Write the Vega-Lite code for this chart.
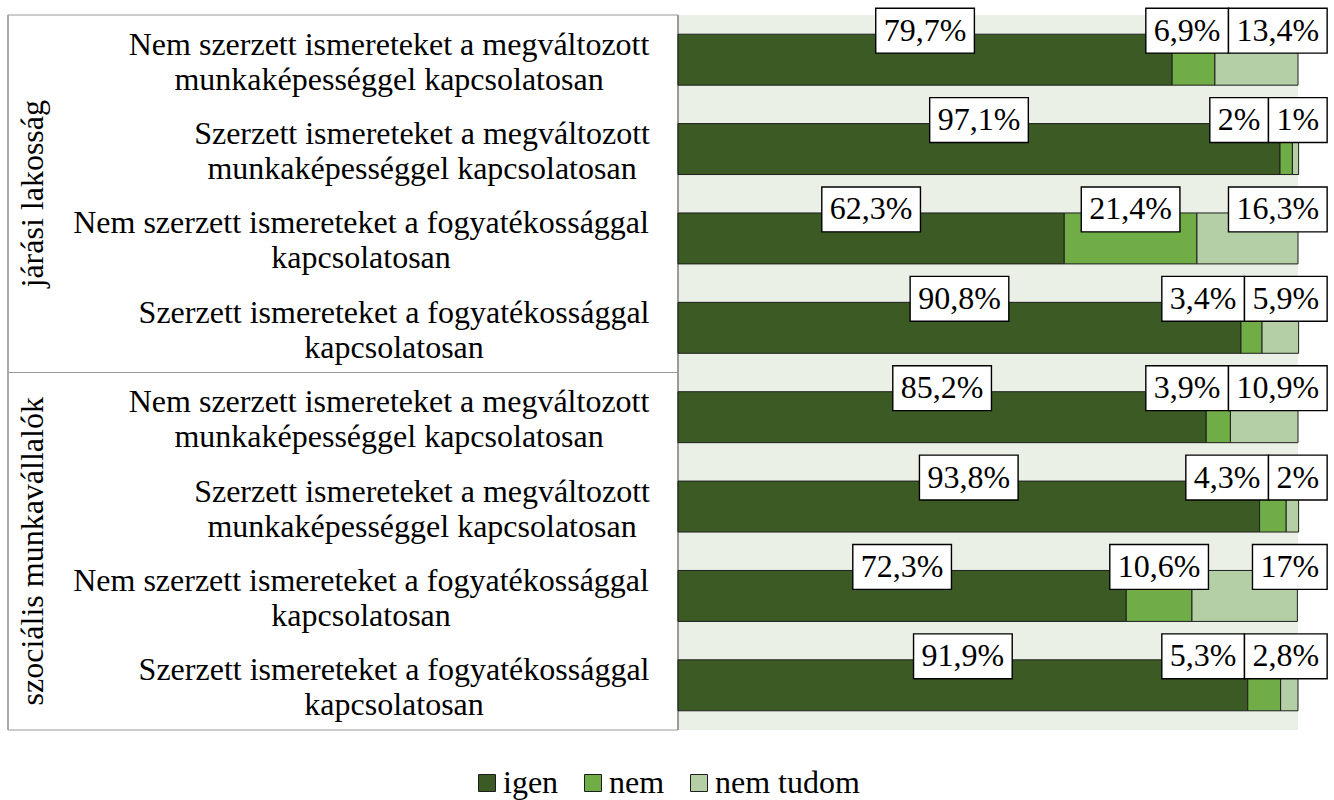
{
  "$schema": "https://vega.github.io/schema/vega-lite/v6.json",
  "width": 1290,
  "height": 715,
  "autosize": {"type": "none"},
  "padding": {"left": 8, "top": 15, "right": 36, "bottom": 70},
  "background": "white",
  "config": {
    "view": {"stroke": null},
    "font": "Liberation Serif",
    "text": {"font": "Liberation Serif", "color": "black"}
  },
  "datasets": {
    "valaszok": [
      {"csoport": "járási lakosság", "kategoria": "Nem szerzett ismereteket a megváltozott\nmunkaképességgel kapcsolatosan", "valasz": "igen", "ertek": 79.7},
      {"csoport": "járási lakosság", "kategoria": "Nem szerzett ismereteket a megváltozott\nmunkaképességgel kapcsolatosan", "valasz": "nem", "ertek": 6.9},
      {"csoport": "járási lakosság", "kategoria": "Nem szerzett ismereteket a megváltozott\nmunkaképességgel kapcsolatosan", "valasz": "nem tudom", "ertek": 13.4},
      {"csoport": "járási lakosság", "kategoria": "Szerzett ismereteket a megváltozott\nmunkaképességgel kapcsolatosan", "valasz": "igen", "ertek": 97.1},
      {"csoport": "járási lakosság", "kategoria": "Szerzett ismereteket a megváltozott\nmunkaképességgel kapcsolatosan", "valasz": "nem", "ertek": 2},
      {"csoport": "járási lakosság", "kategoria": "Szerzett ismereteket a megváltozott\nmunkaképességgel kapcsolatosan", "valasz": "nem tudom", "ertek": 1},
      {"csoport": "járási lakosság", "kategoria": "Nem szerzett ismereteket a fogyatékossággal\nkapcsolatosan", "valasz": "igen", "ertek": 62.3},
      {"csoport": "járási lakosság", "kategoria": "Nem szerzett ismereteket a fogyatékossággal\nkapcsolatosan", "valasz": "nem", "ertek": 21.4},
      {"csoport": "járási lakosság", "kategoria": "Nem szerzett ismereteket a fogyatékossággal\nkapcsolatosan", "valasz": "nem tudom", "ertek": 16.3},
      {"csoport": "járási lakosság", "kategoria": "Szerzett ismereteket a fogyatékossággal\nkapcsolatosan", "valasz": "igen", "ertek": 90.8},
      {"csoport": "járási lakosság", "kategoria": "Szerzett ismereteket a fogyatékossággal\nkapcsolatosan", "valasz": "nem", "ertek": 3.4},
      {"csoport": "járási lakosság", "kategoria": "Szerzett ismereteket a fogyatékossággal\nkapcsolatosan", "valasz": "nem tudom", "ertek": 5.9},
      {"csoport": "szociális munkavállalók", "kategoria": "Nem szerzett ismereteket a megváltozott\nmunkaképességgel kapcsolatosan", "valasz": "igen", "ertek": 85.2},
      {"csoport": "szociális munkavállalók", "kategoria": "Nem szerzett ismereteket a megváltozott\nmunkaképességgel kapcsolatosan", "valasz": "nem", "ertek": 3.9},
      {"csoport": "szociális munkavállalók", "kategoria": "Nem szerzett ismereteket a megváltozott\nmunkaképességgel kapcsolatosan", "valasz": "nem tudom", "ertek": 10.9},
      {"csoport": "szociális munkavállalók", "kategoria": "Szerzett ismereteket a megváltozott\nmunkaképességgel kapcsolatosan", "valasz": "igen", "ertek": 93.8},
      {"csoport": "szociális munkavállalók", "kategoria": "Szerzett ismereteket a megváltozott\nmunkaképességgel kapcsolatosan", "valasz": "nem", "ertek": 4.3},
      {"csoport": "szociális munkavállalók", "kategoria": "Szerzett ismereteket a megváltozott\nmunkaképességgel kapcsolatosan", "valasz": "nem tudom", "ertek": 2},
      {"csoport": "szociális munkavállalók", "kategoria": "Nem szerzett ismereteket a fogyatékossággal\nkapcsolatosan", "valasz": "igen", "ertek": 72.3},
      {"csoport": "szociális munkavállalók", "kategoria": "Nem szerzett ismereteket a fogyatékossággal\nkapcsolatosan", "valasz": "nem", "ertek": 10.6},
      {"csoport": "szociális munkavállalók", "kategoria": "Nem szerzett ismereteket a fogyatékossággal\nkapcsolatosan", "valasz": "nem tudom", "ertek": 17},
      {"csoport": "szociális munkavállalók", "kategoria": "Szerzett ismereteket a fogyatékossággal\nkapcsolatosan", "valasz": "igen", "ertek": 91.9},
      {"csoport": "szociális munkavállalók", "kategoria": "Szerzett ismereteket a fogyatékossággal\nkapcsolatosan", "valasz": "nem", "ertek": 5.3},
      {"csoport": "szociális munkavállalók", "kategoria": "Szerzett ismereteket a fogyatékossággal\nkapcsolatosan", "valasz": "nem tudom", "ertek": 2.8}
    ],
    "csoportok": [
      {"csoport": "járási lakosság"},
      {"csoport": "szociális munkavállalók"}
    ]
  },
  "layer": [
    {
      "data": {"name": "valaszok"},
      "transform": [
        {"calculate": "indexof(['igen','nem','nem tudom'], datum.valasz)", "as": "rend"},
        {"calculate": "datum.csoport + ' – ' + datum.kategoria", "as": "sor"},
        {"stack": "ertek", "groupby": ["sor"], "sort": [{"field": "rend", "order": "ascending"}], "as": ["x0", "x1"]},
        {"calculate": "replace(toString(datum.ertek), '.', ',') + '%'", "as": "felirat"},
        {"calculate": "(32 * (0.5 * length(replace(toString(datum.ertek), '.', '')) + (indexof(toString(datum.ertek), '.') >= 0 ? 0.25 : 0) + 0.833) + 16) / 6.2", "as": "doboz"},
        {"calculate": "datum.valasz == 'nem tudom' ? 104.7 - datum.doboz : null", "as": "ntbal"},
        {"joinaggregate": [{"op": "max", "field": "ntbal", "as": "ntbal_sor"}], "groupby": ["sor"]},
        {"calculate": "datum.valasz == 'igen' ? (datum.x0 + datum.x1) / 2 : (datum.valasz == 'nem' ? min((datum.x0 + datum.x1) / 2, datum.ntbal_sor - datum.doboz / 2) : 104.7 - datum.doboz / 2)", "as": "kozep"},
        {"calculate": "datum.kozep - datum.doboz / 2", "as": "bal"},
        {"calculate": "datum.kozep + datum.doboz / 2", "as": "jobb"}
      ],
      "layer": [
        {
          "mark": {"type": "rect", "fill": "#eaf0e6"},
          "encoding": {
            "x": {"datum": 0, "type": "quantitative", "scale": {"domain": [-108.06, 100], "nice": false, "zero": false}, "axis": null},
            "x2": {"datum": 100}
          }
        },
        {
          "mark": {"type": "rule", "color": "#9a9a9a", "strokeWidth": 1.2},
          "encoding": {
            "x": {"datum": 0, "type": "quantitative", "scale": {"domain": [-108.06, 100], "nice": false, "zero": false}, "axis": null}
          }
        },
        {
          "mark": {"type": "bar", "stroke": "#1e1e1e", "strokeWidth": 1},
          "encoding": {
            "y": {"field": "sor", "type": "nominal", "sort": null, "axis": null, "scale": {"paddingInner": 0.43, "paddingOuter": 0.215}},
            "x": {"field": "x0", "type": "quantitative", "scale": {"domain": [-108.06, 100], "nice": false, "zero": false}, "axis": null},
            "x2": {"field": "x1"},
            "color": {
              "field": "valasz",
              "type": "nominal",
              "scale": {"domain": ["igen", "nem", "nem tudom"], "range": ["#3b5a24", "#70ad47", "#b4cfa6"]},
              "legend": {
                "orient": "none",
                "legendX": 463,
                "legendY": 752,
                "direction": "horizontal",
                "title": null,
                "symbolType": "square",
                "symbolSize": 289,
                "symbolStrokeColor": "#1e1e1e",
                "symbolStrokeWidth": 1,
                "symbolOpacity": 1,
                "labelFont": "Liberation Serif",
                "labelFontSize": 32,
                "labelLimit": 400,
                "labelColor": "black",
                "labelOffset": 0,
                "labelBaseline": "middle",
                "columnPadding": 18,
                "padding": 0
              }
            }
          }
        },
        {
          "mark": {"type": "bar", "fill": "white", "stroke": "black", "strokeWidth": 1.4, "height": {"band": 0.88}, "yOffset": -29},
          "encoding": {
            "y": {"field": "sor", "type": "nominal", "sort": null, "axis": null},
            "x": {"field": "bal", "type": "quantitative", "scale": {"domain": [-108.06, 100], "nice": false, "zero": false}, "axis": null},
            "x2": {"field": "jobb"}
          }
        },
        {
          "mark": {"type": "text", "font": "Liberation Serif", "fontSize": 32, "align": "center", "baseline": "middle", "yOffset": -29, "color": "black"},
          "encoding": {
            "y": {"field": "sor", "type": "nominal", "sort": null, "axis": null},
            "x": {"field": "kozep", "type": "quantitative", "scale": {"domain": [-108.06, 100], "nice": false, "zero": false}, "axis": null},
            "text": {"field": "felirat"}
          }
        },
        {
          "transform": [{"filter": "datum.valasz == 'igen'"}],
          "mark": {
            "type": "text",
            "font": "Liberation Serif",
            "fontSize": 32,
            "align": "center",
            "baseline": "middle",
            "lineBreak": "\n",
            "lineHeight": 35,
            "dy": -15,
            "dx": {"expr": "indexof(datum.kategoria, 'Nem szerzett') == 0 ? (indexof(datum.kategoria, 'megváltozott') >= 0 ? 0 : -28) : (indexof(datum.kategoria, 'megváltozott') >= 0 ? 33 : 5)"},
            "color": "black"
          },
          "encoding": {
            "y": {"field": "sor", "type": "nominal", "sort": null, "axis": null},
            "x": {"datum": -46.6, "type": "quantitative", "scale": {"domain": [-108.06, 100], "nice": false, "zero": false}, "axis": null},
            "text": {"field": "kategoria"}
          }
        }
      ]
    },
    {
      "data": {"name": "csoportok"},
      "layer": [
        {
          "mark": {"type": "rule", "color": "#9a9a9a", "strokeWidth": 1.2},
          "encoding": {
            "x": {"datum": -108.06, "type": "quantitative", "scale": {"domain": [-108.06, 100], "nice": false, "zero": false}, "axis": null}
          }
        },
        {
          "mark": {"type": "rule", "color": "#9a9a9a", "strokeWidth": 1.2},
          "encoding": {
            "y": {"field": "csoport", "type": "nominal", "sort": null, "axis": null, "bandPosition": 0, "scale": {"paddingInner": 0, "paddingOuter": 0}},
            "x": {"datum": -108.06, "type": "quantitative", "scale": {"domain": [-108.06, 100], "nice": false, "zero": false}, "axis": null},
            "x2": {"datum": 0}
          }
        },
        {
          "mark": {"type": "rule", "color": "#9a9a9a", "strokeWidth": 1.2},
          "encoding": {
            "y": {"field": "csoport", "type": "nominal", "sort": null, "axis": null, "bandPosition": 1},
            "x": {"datum": -108.06, "type": "quantitative", "scale": {"domain": [-108.06, 100], "nice": false, "zero": false}, "axis": null},
            "x2": {"datum": 0}
          }
        },
        {
          "mark": {"type": "text", "font": "Liberation Serif", "fontSize": 32, "angle": 270, "align": "center", "baseline": "middle", "color": "black"},
          "encoding": {
            "y": {"field": "csoport", "type": "nominal", "sort": null, "axis": null},
            "x": {"datum": -104.0, "type": "quantitative", "scale": {"domain": [-108.06, 100], "nice": false, "zero": false}, "axis": null},
            "text": {"field": "csoport"}
          }
        }
      ]
    }
  ],
  "resolve": {"scale": {"y": "independent"}}
}
